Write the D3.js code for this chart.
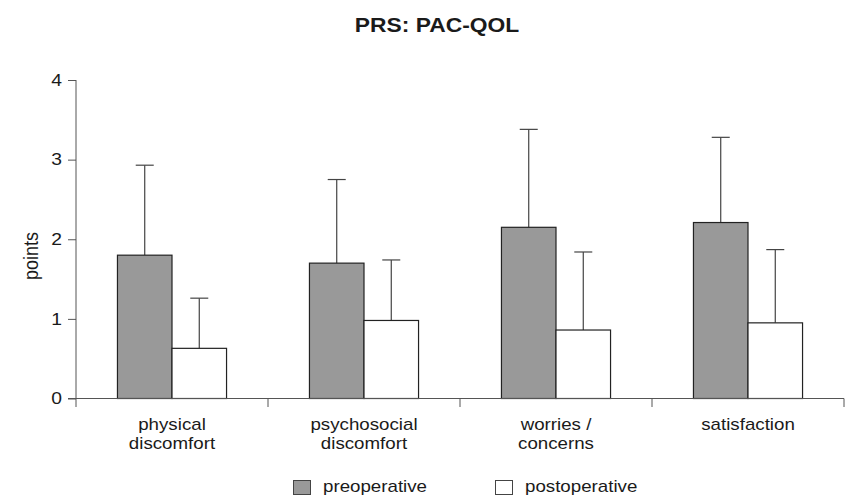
<!DOCTYPE html>
<html><head><meta charset="utf-8">
<script src="https://cdn.jsdelivr.net/npm/d3@7"></script>
<style>body{margin:0;background:#fff}svg{display:block}text{font-family:"Liberation Sans",Arial,sans-serif;fill:#1a1a1a}</style>
</head><body><svg id="c" width="846" height="496"></svg>
<script>
const title = "PRS: PAC-QOL";
const categories = [["physical","discomfort"],["psychosocial","discomfort"],["worries /","concerns"],["satisfaction"]];
const series = ["preoperative","postoperative"];
const preMean = [1.80, 1.70, 2.15, 2.21];
const preSD   = [1.13, 1.05, 1.23, 1.07];
const postMean = [0.63, 0.98, 0.86, 0.95];
const postSD   = [0.63, 0.76, 0.98, 0.92];
const yTicks = [0,1,2,3,4];
const yLabel = "points";
const fills = ["#999999","#ffffff"];

const SX = 1.17;
const svg = d3.select("#c");
const x0 = d3.scaleBand().domain(d3.range(categories.length)).range([76,844]).padding(0);
const x1 = d3.scaleBand().domain(series).range([0,x0.bandwidth()]).paddingInner(0).paddingOuter(0.76);
const y = d3.scaleLinear().domain([0,4]).range([398.5,80]);

// title
svg.append("text").attr("transform",`translate(437,31.5) scale(${SX},1)`)
  .attr("text-anchor","middle").style("font-weight","bold").style("font-size","19.5px").text(title);

// y axis
const ya = svg.append("g").attr("transform","translate(76,0)")
  .call(d3.axisLeft(y).tickValues(yTicks).tickFormat(d3.format("d")).tickSize(8).tickSizeOuter(0).tickPadding(6));
ya.select(".domain").remove();
ya.selectAll(".tick line").attr("stroke","#555");
ya.selectAll(".tick text").attr("x",null).attr("dy",null).attr("dominant-baseline","middle")
  .attr("transform",`translate(-14,1) scale(${SX},1)`).attr("font-size",16.5).style("font-size","16.5px").attr("fill","#1a1a1a");
svg.append("line").attr("x1",76).attr("x2",76).attr("y1",y(4)).attr("y2",407).attr("stroke","#555");

// y label
svg.append("text").attr("transform",`translate(38,256) scale(${SX},1) rotate(-90)`).attr("text-anchor","middle")
  .attr("font-size",18).style("font-size","18px").text(yLabel);

// bars
const rows = categories.map((c,i)=>({i, vals:[{s:series[0],m:preMean[i],sd:preSD[i]},{s:series[1],m:postMean[i],sd:postSD[i]}]}));
const g = svg.append("g").selectAll("g").data(rows).join("g").attr("transform",d=>`translate(${x0(d.i)},0)`);
g.selectAll("line.err").data(d=>d.vals).join("line").attr("class","err")
  .attr("x1",d=>x1(d.s)+x1.bandwidth()/2).attr("x2",d=>x1(d.s)+x1.bandwidth()/2)
  .attr("y1",d=>y(d.m)).attr("y2",d=>y(d.m+d.sd)).attr("stroke","#444").attr("stroke-width",1.2);
g.selectAll("line.cap").data(d=>d.vals).join("line").attr("class","cap")
  .attr("x1",d=>x1(d.s)+x1.bandwidth()/2-9).attr("x2",d=>x1(d.s)+x1.bandwidth()/2+9)
  .attr("y1",d=>y(d.m+d.sd)).attr("y2",d=>y(d.m+d.sd)).attr("stroke","#444").attr("stroke-width",1.2);
g.selectAll("rect").data(d=>d.vals).join("rect")
  .attr("x",d=>x1(d.s)).attr("width",x1.bandwidth())
  .attr("y",d=>y(d.m)).attr("height",d=>y(0)-y(d.m))
  .attr("fill",(d,j)=>fills[j]).attr("stroke","#222").attr("stroke-width",1.2);

// x axis
svg.append("line").attr("x1",68).attr("x2",844).attr("y1",y(0)).attr("y2",y(0)).attr("stroke","#555");
svg.selectAll("line.xt").data(d3.range(1,categories.length+1)).join("line").attr("class","xt")
  .attr("x1",i=>x0(i-1)+x0.bandwidth()).attr("x2",i=>x0(i-1)+x0.bandwidth())
  .attr("y1",y(0)).attr("y2",407).attr("stroke","#555");
const cl = svg.selectAll("g.cl").data(categories).join("g").attr("class","cl")
  .attr("transform",(d,i)=>`translate(${x0(i)+x0.bandwidth()/2},430) scale(${SX},1)`);
cl.selectAll("text").data(d=>d).join("text").attr("text-anchor","middle")
  .attr("y",(d,j)=>j*19).style("font-size","16px").text(d=>d);

// legend
const legX = [293, 495];
const lg = svg.selectAll("g.lg").data(series).join("g").attr("class","lg")
  .attr("transform",(d,i)=>`translate(${legX[i]},0)`);
lg.append("rect").attr("x",0.5).attr("y",480.5).attr("width",17).attr("height",14)
  .attr("fill",(d,i)=>fills[i]).attr("stroke","#444");
lg.append("text").attr("transform",`translate(30,491.5) scale(${SX},1)`).style("font-size","16px").text(d=>d);
</script></body></html>
